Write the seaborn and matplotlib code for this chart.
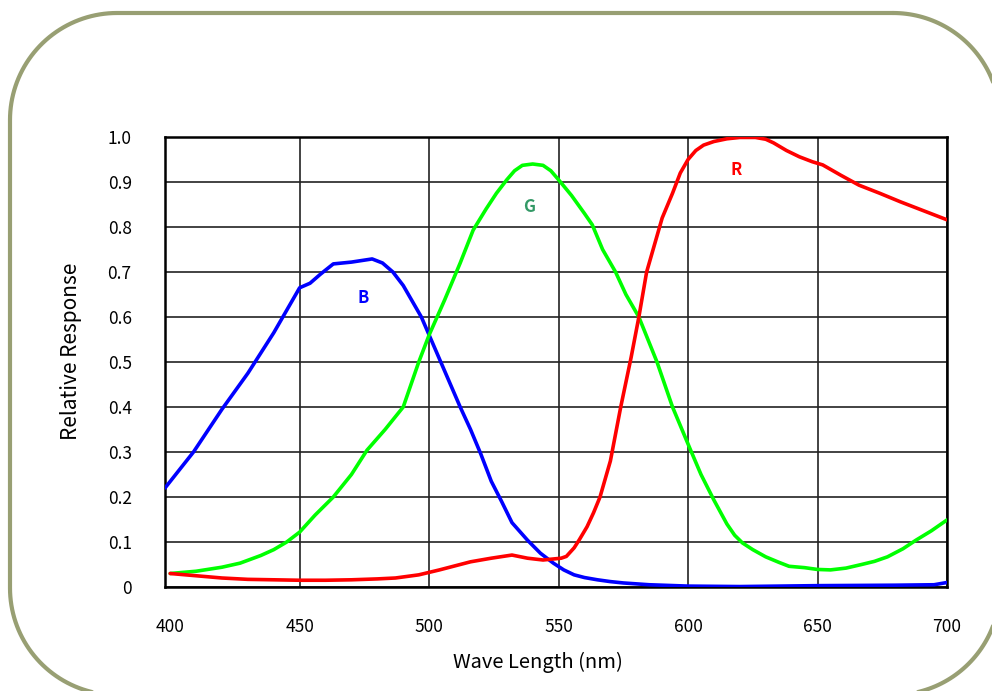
import numpy as np
import pandas as pd
import seaborn as sns
import matplotlib.pyplot as plt
from matplotlib.lines import Line2D

# spectral response curves
blue_wl = [398, 409, 420, 430, 440, 445, 450, 454, 458, 463, 470, 478, 482, 486, 490, 494,
           497, 500, 506, 512, 516, 520, 524, 528, 532, 538, 543, 548, 552, 556, 560, 565,
           570, 575, 585, 600, 620, 650, 680, 695, 700]
blue_val = [0.22, 0.30, 0.395, 0.475, 0.565, 0.615, 0.665, 0.675, 0.695, 0.718, 0.722, 0.729,
            0.72, 0.70, 0.67, 0.63, 0.60, 0.56, 0.48, 0.40, 0.35, 0.295, 0.235, 0.19,
            0.143, 0.104, 0.075, 0.053, 0.038, 0.027, 0.021, 0.016, 0.012, 0.009, 0.005,
            0.002, 0.001, 0.003, 0.004, 0.005, 0.01]

green_wl = [400, 410, 420, 427, 435, 440, 445, 450, 456, 463, 470, 476, 483, 490, 496, 500,
            506, 512, 517, 522, 526, 530, 533, 536, 540, 544, 547, 550, 555, 560, 563, 567,
            572, 576, 581, 588, 594, 601, 605, 610, 615, 618, 621, 625, 630, 635, 639, 645,
            650, 655, 661, 667, 672, 677, 683, 688, 694, 700]
green_val = [0.03, 0.035, 0.044, 0.053, 0.07, 0.083, 0.10, 0.122, 0.16, 0.20, 0.25, 0.304,
             0.35, 0.40, 0.50, 0.56, 0.638, 0.72, 0.793, 0.84, 0.875, 0.905, 0.925, 0.937,
             0.94, 0.937, 0.925, 0.905, 0.87, 0.83, 0.805, 0.75, 0.70, 0.65, 0.60, 0.50,
             0.40, 0.304, 0.25, 0.193, 0.14, 0.115, 0.098, 0.083, 0.067, 0.055, 0.046, 0.043,
             0.039, 0.038, 0.042, 0.05, 0.057, 0.067, 0.085, 0.104, 0.125, 0.149]

red_wl = [400, 410, 420, 430, 440, 450, 460, 470, 480, 487, 496, 504, 510, 516, 524, 532,
          538, 544, 551, 553, 556, 558, 561, 563.5, 566, 568, 570, 572, 574, 578, 581, 584,
          587, 590, 594, 597, 600, 603, 606, 610, 615, 620, 626, 630, 633, 638, 643, 648,
          652, 659, 666, 674, 682, 691, 700]
red_val = [0.03, 0.025, 0.02, 0.017, 0.016, 0.015, 0.015, 0.016, 0.018, 0.02, 0.027, 0.038,
           0.047, 0.056, 0.064, 0.071, 0.064, 0.06, 0.064, 0.068, 0.087, 0.105, 0.134, 0.165,
           0.20, 0.24, 0.28, 0.34, 0.40, 0.51, 0.60, 0.70, 0.76, 0.82, 0.875, 0.92, 0.95,
           0.97, 0.982, 0.99, 0.996, 0.999, 0.999, 0.995, 0.987, 0.97, 0.956, 0.945, 0.938,
           0.915, 0.893, 0.875, 0.856, 0.836, 0.816]

x_ticks = [400, 450, 500, 550, 600, 650, 700]
y_ticks = [0, 0.1, 0.2, 0.3, 0.4, 0.5, 0.6, 0.7, 0.8, 0.9, 1.0]
y_tick_labels = ['0', '0.1', '0.2', '0.3', '0.4', '0.5', '0.6', '0.7', '0.8', '0.9', '1.0']

df = pd.concat([
    pd.DataFrame({'wl': blue_wl, 'val': blue_val, 'ch': 'B'}),
    pd.DataFrame({'wl': green_wl, 'val': green_val, 'ch': 'G'}),
    pd.DataFrame({'wl': red_wl, 'val': red_val, 'ch': 'R'}),
])

sns.set_theme(style="white")
plt.rcParams['font.family'] = ['Noto Sans CJK JP', 'DejaVu Sans']

W, H = 992, 691
fig = plt.figure(figsize=(W / 100, H / 100), dpi=100)
ax = fig.add_axes([165 / W, 1 - 587 / H, 782 / W, 450 / H])

# rounded frame around the whole picture (pixel geometry -> figure fraction);
# its right edge lies outside the canvas, so only the corners show there
left, top, right, bottom, r = 10, 13, 1000, 695, 107


def arc(cx, cy, a0, a1):
    t = np.radians(np.linspace(a0, a1, 40))
    return list(cx + r * np.cos(t)), list(cy + r * np.sin(t))


pieces = []
pieces.append(arc(right - r, top + r, -90, -20))
bx, by = [], []
for cx, cy, a0, a1 in [(right - r, bottom - r, 20, 90), (left + r, bottom - r, 90, 180),
                       (left + r, top + r, 180, 270)]:
    xs, ys = arc(cx, cy, a0, a1)
    bx += xs
    by += ys
bx.append(right - r)
by.append(top)
pieces.append((bx, by))
for xs, ys in pieces:
    fig.lines.append(Line2D(np.array(xs) / W, 1 - np.array(ys) / H, transform=fig.transFigure,
                            color='#989F73', linewidth=3.0, zorder=0))

sns.lineplot(data=df, x='wl', y='val', hue='ch',
             palette={'B': '#0000FF', 'G': '#00FF00', 'R': '#FF0000'},
             estimator=None, sort=False, linewidth=2.6, legend=False, ax=ax, zorder=3)

ax.set_xlim(398, 700)
ax.set_ylim(0, 1.0)
ax.set_xticks(x_ticks)
ax.set_yticks(y_ticks)
ax.set_yticklabels(y_tick_labels)
ax.tick_params(axis='both', length=0, labelsize=12.5, colors='black')
ax.tick_params(axis='y', pad=24)
ax.tick_params(axis='x', pad=22)

ax.grid(True, color='#222222', linewidth=1.2)
ax.xaxis.get_gridlines()[0].set_visible(False)
for s in ax.spines.values():
    s.set_visible(True)
    s.set_color('black')
    s.set_linewidth(1.8)

ax.set_xlabel('Wave Length (nm)', fontsize=14.5, color='black')
ax.xaxis.set_label_coords(0.477, -0.145)
ax.set_ylabel('Relative Response', fontsize=15, color='black')
ax.yaxis.set_label_coords(-0.106, 0.524)

ax.text(474.5, 0.642, 'B', color='#0000FF', fontsize=12, fontweight='bold', ha='center', va='center')
ax.text(538.6, 0.844, 'G', color='#339966', fontsize=12, fontweight='bold', ha='center', va='center')
ax.text(618.5, 0.927, 'R', color='#FF0000', fontsize=12, fontweight='bold', ha='center', va='center')

plt.savefig('out.png', dpi=100)
